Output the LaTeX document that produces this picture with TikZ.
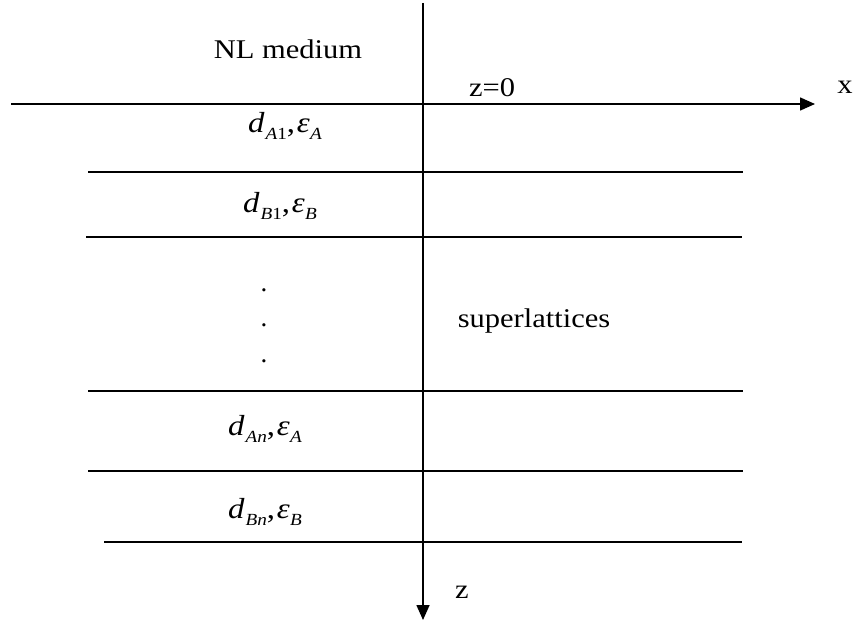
\documentclass[tikz,border=0pt]{standalone}
\usepackage{fontspec}
\usepackage{graphicx}
\setmainfont{Liberation Serif}
\usetikzlibrary{arrows.meta}
\newcommand{\wide}[1]{\scalebox{1.13}[1]{#1}}
\newcommand{\subsz}{\fontsize{17}{19}\selectfont}
\newcommand{\dlab}[2]{\wide{\fontsize{29}{32}\selectfont\itshape d\kern1pt\raisebox{-7.5pt}{\subsz #1}\upshape,\kern1.5pt\itshape ε\kern0.5pt\raisebox{-7.5pt}{\subsz #2}}}
\begin{document}
\begin{tikzpicture}[x=1pt,y=-1pt,
  txt/.style={inner sep=0pt, anchor=base, font=\fontsize{27}{31}\selectfont},
  axis/.style={line width=1.6pt, -{Triangle[length=15pt,width=13pt]}},
  layer/.style={line width=1.6pt}]
\useasboundingbox (0,0) rectangle (854,626);
% axes
\coordinate (xs) at (11,104);
\coordinate (xe) at (815,104);
\coordinate (zs) at (423,3);
\coordinate (ze) at (423,620);
\draw[axis] (xs) -- (xe);
\draw[axis] (zs) -- (ze);
% layer boundaries
\coordinate (l1a) at (88,172);  \coordinate (l1b) at (743,172);
\coordinate (l2a) at (86,237);  \coordinate (l2b) at (742,237);
\coordinate (l3a) at (88,391);  \coordinate (l3b) at (743,391);
\coordinate (l4a) at (88,471);  \coordinate (l4b) at (743,471);
\coordinate (l5a) at (104,542); \coordinate (l5b) at (742,542);
\draw[layer] (l1a) -- (l1b);
\draw[layer] (l2a) -- (l2b);
\draw[layer] (l3a) -- (l3b);
\draw[layer] (l4a) -- (l4b);
\draw[layer] (l5a) -- (l5b);
% labels
\node[txt] (nl) at (288,59) {\wide{NL medium}};
\node[txt] (z0) at (492,96) {\wide{z=0}};
\node[txt] (xl) at (845,93) {\wide{x}};
\node[txt] (zl) at (462,598) {\wide{z}};
\node[txt] (sl) at (534,327) {\wide{superlattices}};
\node[txt] (dot1) at (264,291) {.};
\node[txt] (dot2) at (264,326) {.};
\node[txt] (dot3) at (264,362) {.};
\node[txt] (a1) at (285,132) {\dlab{A\upshape 1}{A}};
\node[txt] (b1) at (280,212) {\dlab{B\upshape 1}{B}};
\node[txt] (an) at (265,435) {\dlab{An}{A}};
\node[txt] (bn) at (265,518) {\dlab{Bn}{B}};
\end{tikzpicture}
\end{document}
